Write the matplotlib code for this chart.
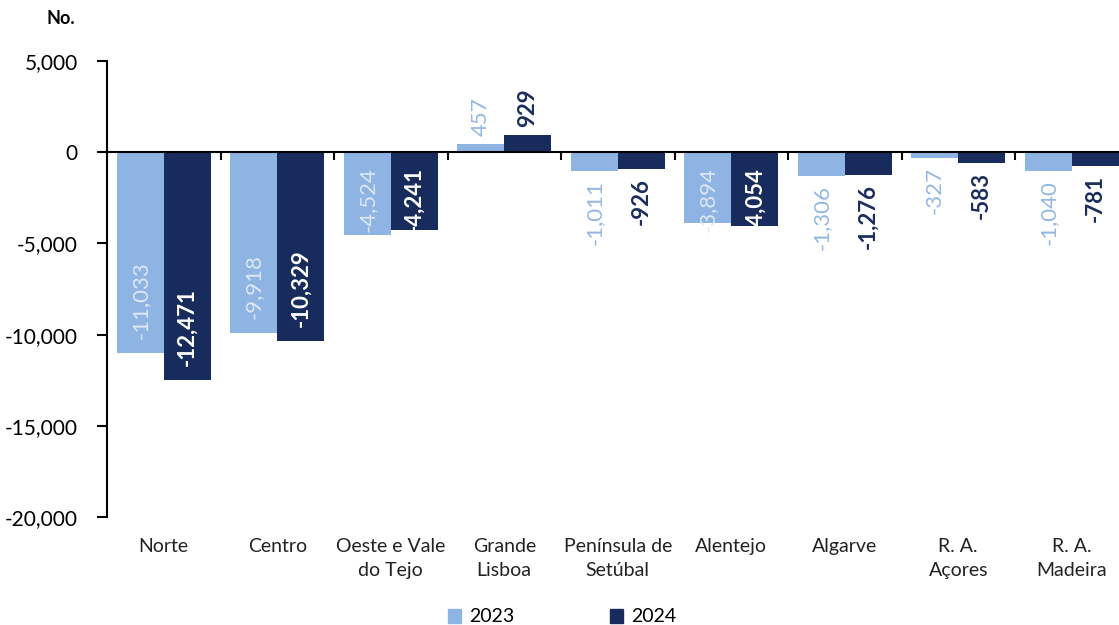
import numpy as np
import matplotlib
matplotlib.use('Agg')
import matplotlib.pyplot as plt
from matplotlib.patches import Patch
from matplotlib.ticker import FuncFormatter, FixedLocator

plt.rcParams['font.family'] = ['Lato', 'DejaVu Sans']
plt.rcParams['axes.unicode_minus'] = False

regions = ['Norte', 'Centro', 'Oeste e Vale\ndo Tejo', 'Grande\nLisboa', 'Península de\nSetúbal',
           'Alentejo', 'Algarve', 'R. A.\nAçores', 'R. A.\nMadeira']
values_2023 = [-11033, -9918, -4524, 457, -1011, -3894, -1306, -327, -1040]
values_2024 = [-12471, -10329, -4241, 929, -926, -4054, -1276, -583, -781]
years = ['2023', '2024']

col_2023 = '#8eb4e3'
col_2024 = '#172c5c'
txt_2023_in = '#dde7f4'
txt_2023_out = '#93b8e4'
txt_2024_in = 'white'
txt_2024_out = '#1a2d5c'

fig = plt.figure(figsize=(11.19, 6.25), dpi=100)
ax = fig.add_axes([107 / 1119, 1 - 517 / 625, 1021.5 / 1119, (517 - 61) / 625])

x = np.arange(len(regions))
w = 0.414
bars_a = ax.bar(x - w / 2, values_2023, w, color=col_2023, zorder=2)
bars_b = ax.bar(x + w / 2, values_2024, w, color=col_2024, zorder=2)

ax.set_xlim(-0.5, len(regions) - 0.5)
ax.set_ylim(-20000, 5000)
ax.yaxis.set_major_locator(FixedLocator(np.arange(-20000, 5001, 5000)))
ax.yaxis.set_major_formatter(FuncFormatter(lambda v, p: f'{int(v):,}'))
ax.tick_params(axis='y', direction='out', length=7, width=1.5, pad=14, labelsize=15, colors='black')

# x axis drawn on the zero line, ticks at category boundaries
ax.spines['bottom'].set_position(('data', 0))
ax.spines['bottom'].set_linewidth(1.5)
ax.spines['left'].set_linewidth(1.5)
ax.spines['top'].set_visible(False)
ax.spines['right'].set_visible(False)
ax.set_xticks(np.arange(0.5, len(regions) - 0.5, 1))
ax.set_xticklabels([])
ax.tick_params(axis='x', direction='out', length=6, width=1.5)

for i, name in enumerate(regions):
    ax.text(i, -0.045, name, transform=ax.get_xaxis_transform(), ha='center', va='top',
            fontsize=14, linespacing=1.5, color='#222222')

px_per_unit = ax.transData.transform((0, 1))[1] - ax.transData.transform((0, 0))[1]


def put_labels(bars, vals, c_in, c_out, weight):
    for b, v in zip(bars, vals):
        cx = b.get_x() + b.get_width() / 2
        lab = f'{v:,}'
        bar_px = abs(v) * px_per_unit
        if v > 0:
            ax.annotate(lab, (cx, v), xytext=(0, 8), textcoords='offset pixels', rotation=90,
                        ha='center', va='bottom', fontsize=16, color=c_out, fontweight=weight)
        elif bar_px > 110:
            ax.annotate(lab, (cx, v), xytext=(0, 14), textcoords='offset pixels', rotation=90,
                        ha='center', va='bottom', fontsize=16, color=c_in, fontweight=weight, zorder=3)
        elif bar_px > 45:
            ax.annotate(lab, (cx, 0), xytext=(0, -15), textcoords='offset pixels', rotation=90,
                        ha='center', va='top', fontsize=16, color=c_in, fontweight=weight, zorder=3)
        else:
            ax.annotate(lab, (cx, v), xytext=(0, -9), textcoords='offset pixels', rotation=90,
                        ha='center', va='top', fontsize=16, color=c_out, fontweight=weight)


put_labels(bars_a, values_2023, txt_2023_in, txt_2023_out, 'normal')
put_labels(bars_b, values_2024, txt_2024_in, txt_2024_out, 'bold')

fig.text(47 / 1119, 1 - 18 / 625, 'No.', fontsize=13, fontweight='bold', va='center', ha='left')

handles = [Patch(color=col_2023), Patch(color=col_2024)]
fig.legend(handles, years, loc='center', bbox_to_anchor=(562 / 1119, 1 - 617 / 625), ncol=2,
           frameon=False, fontsize=14, handlelength=0.7, handleheight=0.7, handletextpad=0.4,
           columnspacing=4.9)

fig.savefig('out.png', dpi=100)
